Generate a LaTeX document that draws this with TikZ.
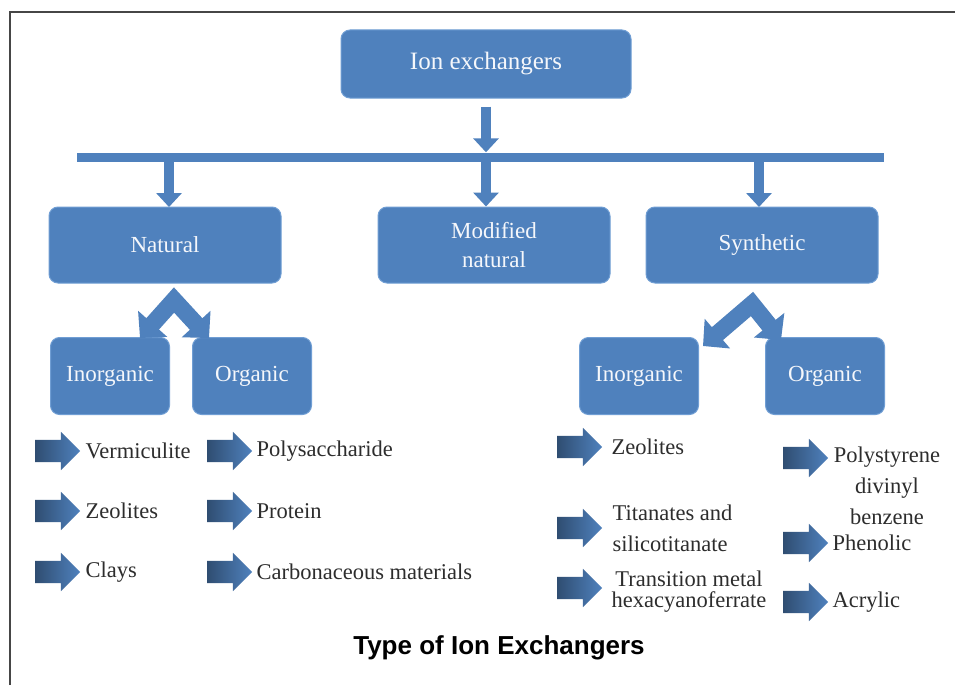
\documentclass[tikz,border=0pt]{standalone}
\usepackage{fontspec}
\setmainfont{Liberation Serif}
\newfontfamily\capfont{Liberation Sans}
\usetikzlibrary{arrows.meta,shapes.arrows}
\definecolor{boxblue}{RGB}{79,129,189}
\definecolor{boxedge}{RGB}{112,158,212}
\definecolor{txt}{RGB}{45,45,45}
\definecolor{framec}{RGB}{70,70,70}
\begin{document}
\begin{tikzpicture}[x=1pt,y=-1pt,
  box/.style={rectangle, rounded corners=9pt, fill=boxblue, draw=boxedge, line width=1pt,
    text=white!94!boxblue, font=\fontsize{23}{29}\selectfont, align=center, inner sep=0pt},
  barrow/.style={draw=boxblue, line width=10pt, -{Triangle[width=25pt,length=14pt]}},
  chev/.style={draw=boxblue, line width=17pt, line join=miter,
    {Triangle[width=38pt,length=19pt]}-{Triangle[width=38pt,length=19pt]}},
  sarrow/.style={single arrow, single arrow head extend=8pt, minimum height=45pt,
    text height=0pt, text depth=0pt, text width=0pt, inner xsep=0pt, inner ysep=11pt,
    left color=boxblue!60!black, middle color=boxblue, right color=boxblue, draw=none},
  item/.style={anchor=west, text=txt, font=\fontsize{22.5}{31}\selectfont, inner sep=0pt, align=left},
]
\fill[white] (0,0) rectangle (955,685);
\useasboundingbox (0,0) rectangle (955,685);
% frame
\draw[framec, line width=2pt] (10,685) -- (10,12) -- (955,12);

% main boxes
\node[box, minimum width=290pt, minimum height=68pt, font=\fontsize{25}{29}\selectfont] (top) at (486,64) {Ion exchangers};
\node[rectangle, fill=boxblue, minimum width=807pt, minimum height=9pt, inner sep=0pt] (bar) at (480,157) {};
\node[box, minimum width=232pt, minimum height=76pt] (nat) at (165,245) {Natural};
\node[box, minimum width=232pt, minimum height=76pt] (mod) at (494,245) {Modified\\natural};
\node[box, minimum width=232pt, minimum height=76pt] (syn) at (762,245) {Synthetic};

\node[box, minimum width=119pt, minimum height=77pt] (ninorg) at (110,376) {Inorganic};
\node[box, minimum width=119pt, minimum height=77pt] (norg) at (252,376) {Organic};
\node[box, minimum width=119pt, minimum height=77pt] (sinorg) at (639,376) {Inorganic};
\node[box, minimum width=119pt, minimum height=77pt] (sorg) at (825,376) {Organic};

% connectors
\draw[barrow] ([yshift=-8pt]top.south) -- (top.south |- bar.north);
\draw[barrow] (bar.south -| 169,0) -- (169,207);
\draw[barrow] (bar.south -| top.south) -- (top.south |- mod.north);
\draw[barrow] (bar.south -| 759,0) -- (759,207);

% chevrons
\coordinate (napex) at (174,300);
\coordinate (nl) at (140,338);
\coordinate (nr) at (209,338);
\draw[chev] (nl) -- (napex) -- (nr);
\coordinate (sapex) at (752,304);
\coordinate (sl) at (703,346);
\coordinate (sr) at (781,340);
\draw[chev] (sl) -- (sapex) -- (sr);

% natural inorganic items
\node[sarrow] (a1) at (52,451) {};
\node[item] (t1) at ([xshift=5pt]a1.tip) {Vermiculite};
\node[sarrow] (a2) at (52,511) {};
\node[item] (t2) at ([xshift=5pt]a2.tip) {Zeolites};
\node[sarrow] (a3) at (52,572) {};
\node[item] (t3) at ([xshift=5pt]a3.tip) {Clays};
% natural organic items
\node[sarrow] (b1) at (224,451) {};
\node[item] (u1) at ([xshift=4pt]b1.tip) {Polysaccharide};
\node[sarrow] (b2) at (224,511) {};
\node[item] (u2) at ([xshift=4pt]b2.tip) {Protein};
\node[sarrow] (b3) at (224,572) {};
\node[item] (u3) at ([xshift=4pt]b3.tip) {Carbonaceous materials};
% synthetic inorganic items
\node[sarrow] (c1) at (574,447) {};
\node[item] (v1) at ([xshift=9pt]c1.tip) {Zeolites};
\node[sarrow] (c2) at (574,528) {};
\node[item] (v2) at ([xshift=10pt]c2.tip) {Titanates and\\silicotitanate};
\node[sarrow] (c3) at (574,588) {};
\node[item, anchor=center, align=center, font=\fontsize{22.5}{21}\selectfont] (v3) at (689,592) {Transition metal\\hexacyanoferrate};
% synthetic organic items
\node[sarrow] (d1) at (800,458) {};
\node[item, anchor=center, align=center] (w1) at (887,486) {Polystyrene\\divinyl\\benzene};
\node[sarrow] (d2) at (800,543) {};
\node[item] (w2) at ([xshift=4pt]d2.tip) {Phenolic};
\node[sarrow] (d3) at (800,602) {};
\node[item] (w3) at ([xshift=4pt]d3.tip) {Acrylic};

% caption
\node[font=\capfont\bfseries\fontsize{26}{30}\selectfont, text=black] (cap) at (499,648) {Type of Ion Exchangers};
\end{tikzpicture}
\end{document}
